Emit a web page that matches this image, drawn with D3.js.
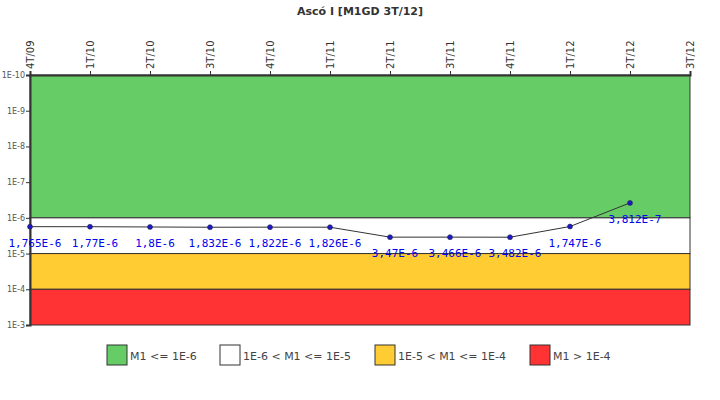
<!DOCTYPE html>
<html><head><meta charset="utf-8">
<script src="https://cdn.jsdelivr.net/npm/d3@7"></script>
<style>body{margin:0;background:#fff}</style></head>
<body><svg id="c" width="720" height="400"></svg>
<script>
const categories = ["4T/09","1T/10","2T/10","3T/10","4T/10","1T/11","2T/11","3T/11","4T/11","1T/12","2T/12","3T/12"];
const values = [1.765e-6,1.77e-6,1.8e-6,1.832e-6,1.822e-6,1.826e-6,3.47e-6,3.466e-6,3.482e-6,1.747e-6,3.812e-7];
const valueLabels = ["1,765E-6","1,77E-6","1,8E-6","1,832E-6","1,822E-6","1,826E-6","3,47E-6","3,466E-6","3,482E-6","1,747E-6","3,812E-7"];
const yTicks = [1e-10,1e-9,1e-8,1e-7,1e-6,1e-5,1e-4,1e-3];
const yTickLabels = ["1E-10","1E-9","1E-8","1E-7","1E-6","1E-5","1E-4","1E-3"];
const bandNames = ["M1 <= 1E-6","1E-6 < M1 <= 1E-5","1E-5 < M1 <= 1E-4","M1 > 1E-4"];
const bandLimits = [[1e-10,1e-6],[1e-6,1e-5],[1e-5,1e-4],[1e-4,1e-3]];
const bandColors = ["#66cc66","#ffffff","#ffcc33","#ff3333"];

const svg = d3.select("#c");
const L=30,R=690,T=75,B=325;
const x = d3.scalePoint().domain(categories).range([L,R]);
const y = d3.scaleLog().domain([1e-10,1e-3]).range([T,B]);

svg.append("text").attr("x",360).attr("y",15).attr("text-anchor","middle")
  .attr("font-family","DejaVu Sans").attr("font-size",11).attr("font-weight","bold").attr("fill","#333")
  .text("Ascó I [M1GD 3T/12]");

svg.selectAll("rect.band").data(bandLimits).enter().append("rect")
  .attr("x",L).attr("width",R-L).attr("y",d=>y(d[0])).attr("height",d=>y(d[1])-y(d[0]))
  .attr("fill",(d,i)=>bandColors[i]).attr("stroke","#333").attr("stroke-width",1);

// y axis
const ya = svg.append("g").attr("transform",`translate(${L},0)`)
  .call(d3.axisLeft(y).tickValues(yTicks).tickFormat((d,i)=>yTickLabels[i]).tickSize(4).tickPadding(1));
ya.selectAll("text").attr("font-family","DejaVu Sans").attr("font-size",8).attr("fill","#555");
ya.select(".domain").attr("stroke","#333").attr("stroke-width",2);
ya.selectAll(".tick line").attr("stroke","#333");

// x axis top
const xa = svg.append("g").attr("transform",`translate(0,${T})`)
  .call(d3.axisTop(x).tickSize(4).tickPadding(3));
xa.select(".domain").attr("stroke","#333").attr("stroke-width",2);
xa.selectAll(".tick line").attr("stroke","#333");
xa.selectAll("text").attr("font-family","DejaVu Sans").attr("font-size",10).attr("fill","#333")
  .attr("transform","rotate(-90)").attr("text-anchor","start").attr("x",6).attr("y",0).attr("dy","0.35em");

const pts = values.map((v,i)=>({c:categories[i],v,l:valueLabels[i]}));
svg.append("path").datum(pts).attr("fill","none").attr("stroke","#333").attr("stroke-width",1)
  .attr("d",d3.line().x(d=>x(d.c)).y(d=>y(d.v)));
svg.selectAll("circle.p").data(pts).enter().append("circle")
  .attr("cx",d=>x(d.c)).attr("cy",d=>y(d.v)).attr("r",2.5).attr("fill","#1a1acc").attr("stroke","#222").attr("stroke-width",0.5);
svg.selectAll("text.vl").data(pts).enter().append("text")
  .attr("x",d=>x(d.c)+5).attr("y",d=>y(d.v)+20).attr("text-anchor","middle")
  .attr("font-family","DejaVu Sans Mono").attr("font-size",11).attr("fill","#0000ee").text(d=>d.l);

// legend
const lx=[107,220,375,530];
const lg = svg.selectAll("g.lg").data(bandNames).enter().append("g").attr("transform",(d,i)=>`translate(${lx[i]},345)`);
lg.append("rect").attr("width",20).attr("height",20).attr("fill",(d,i)=>bandColors[i]).attr("stroke","#333");
lg.append("text").attr("x",23).attr("y",15).attr("font-family","DejaVu Sans").attr("font-size",11).attr("fill","#444").text(d=>d);
</script></body></html>
